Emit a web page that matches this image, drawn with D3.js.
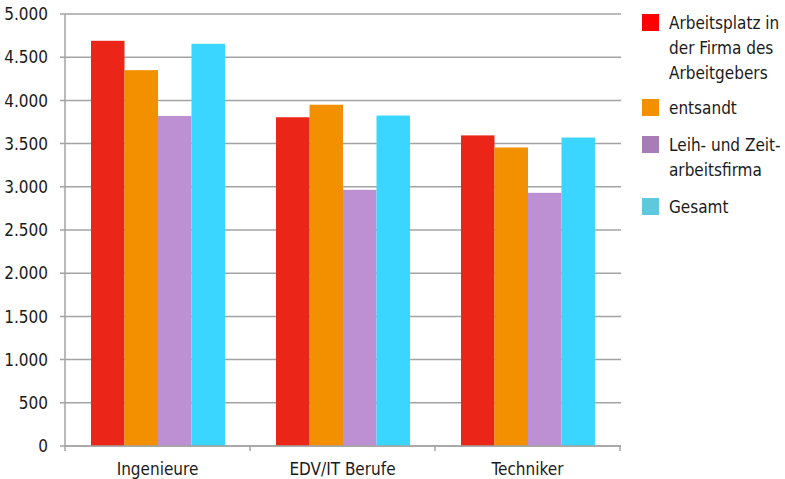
<!DOCTYPE html>
<html>
<head>
<meta charset="utf-8">
<script src="https://cdn.jsdelivr.net/npm/d3@7"></script>
<style>
  body { margin: 0; background: #fff; }
  svg text { font-family: "Liberation Sans Narrow", "DejaVu Sans Condensed", "Roboto", sans-serif; font-stretch: condensed; fill: #1a1a1a; }
</style>
</head>
<body>
<div id="chart"></div>
<script>
var categories = ['Ingenieure', 'EDV/IT Berufe', 'Techniker'];
var series = ['Arbeitsplatz in der Firma des Arbeitgebers', 'entsandt', 'Leih- und Zeitarbeitsfirma', 'Gesamt'];
var legendLines = [['Arbeitsplatz in', 'der Firma des', 'Arbeitgebers'], ['entsandt'], ['Leih- und Zeit-', 'arbeitsfirma'], ['Gesamt']];
var arbeitsplatz = [4690, 3805, 3595];
var entsandt = [4350, 3950, 3455];
var leihZeit = [3820, 2965, 2930];
var gesamt = [4655, 3825, 3570];
var yTicks = [0, 500, 1000, 1500, 2000, 2500, 3000, 3500, 4000, 4500, 5000];

var barColors = ['#eb2518', '#f39000', '#bd8fd3', '#3bd6ff'];
var legendColors = ['#ff0000', '#f39000', '#a87db5', '#5ec8dc'];

var values = [arbeitsplatz, entsandt, leihZeit, gesamt];

var width = 785, height = 479;
var plotLeft = 65, plotRight = 620, plotTop = 14, plotBottom = 446;

var svg = d3.select('#chart').append('svg')
  .attr('width', width)
  .attr('height', height);

var x0 = d3.scaleBand().domain(categories).range([plotLeft, plotRight]);
var xs = d3.scaleBand().domain(series).range([26, x0.bandwidth() - 25]);
var y = d3.scaleLinear().domain([0, 5000]).range([plotBottom, plotTop]);

// gridlines + y labels
svg.append('g').selectAll('line').data(yTicks).enter().append('line')
  .attr('x1', plotLeft - 5).attr('x2', plotRight + 1)
  .attr('y1', function(d) { return y(d); }).attr('y2', function(d) { return y(d); })
  .attr('stroke', '#a3a3a3').attr('stroke-width', 1.5);

svg.append('g').selectAll('text').data(yTicks).enter().append('text')
  .attr('x', 48).attr('y', function(d) { return y(d); })
  .attr('dy', '0.36em')
  .attr('text-anchor', 'end')
  .style('font-size', '17px')
  .text(function(d) { return d3.format(',')(d).replace(/,/g, '.'); });

// y axis line
svg.append('line')
  .attr('x1', plotLeft).attr('x2', plotLeft).attr('y1', plotTop).attr('y2', plotBottom)
  .attr('stroke', '#a3a3a3').attr('stroke-width', 1.5);

// bars
categories.forEach(function(cat, i) {
  var g = svg.append('g').attr('transform', 'translate(' + x0(cat) + ',0)');
  series.forEach(function(s, j) {
    g.append('rect')
      .attr('x', xs(s))
      .attr('y', y(values[j][i]))
      .attr('width', xs.bandwidth())
      .attr('height', plotBottom - y(values[j][i]))
      .attr('fill', barColors[j]);
  });
});

// x axis
var tickXs = categories.map(function(c) { return x0(c); }).concat([plotRight]);
svg.append('line')
  .attr('x1', plotLeft).attr('x2', plotRight + 1).attr('y1', plotBottom).attr('y2', plotBottom)
  .attr('stroke', '#a3a3a3').attr('stroke-width', 1.5);
svg.append('g').selectAll('line').data(tickXs).enter().append('line')
  .attr('x1', function(d) { return d; }).attr('x2', function(d) { return d; })
  .attr('y1', plotBottom).attr('y2', plotBottom + 5)
  .attr('stroke', '#a3a3a3').attr('stroke-width', 1.5);

svg.append('g').selectAll('text').data(categories).enter().append('text')
  .attr('x', function(d) { return x0(d) + x0.bandwidth() / 2; })
  .attr('y', 469)
  .attr('dy', '0.36em')
  .attr('text-anchor', 'middle')
  .style('font-size', '17px')
  .text(function(d) { return d; });

// legend
var legendY = [14, 99, 136, 198];
var legend = svg.append('g');
series.forEach(function(s, j) {
  legend.append('rect')
    .attr('x', 642).attr('y', legendY[j])
    .attr('width', 17).attr('height', 17)
    .attr('fill', legendColors[j]);
  var t = legend.append('text')
    .attr('x', 669).attr('y', legendY[j] + 8.5)
    .style('font-size', '17px');
  legendLines[j].forEach(function(line, k) {
    t.append('tspan')
      .attr('x', 669)
      .attr('dy', k === 0 ? '0.36em' : '25px')
      .text(line);
  });
});
</script>
</body>
</html>
